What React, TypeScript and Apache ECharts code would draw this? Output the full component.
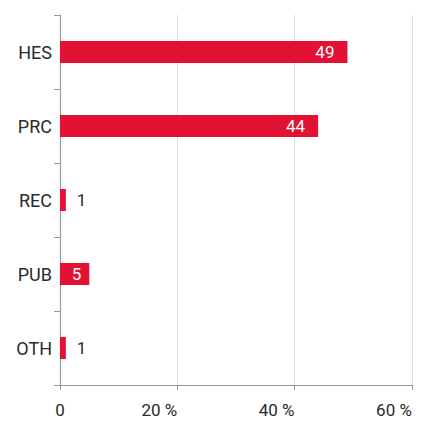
import React, { useEffect, useRef } from "react";
import * as echarts from "echarts";

const categories = ["HES", "PRC", "REC", "PUB", "OTH"];
const values = [49, 44, 1, 5, 1];
const xTicks = [0, 20, 40, 60];

const RED = "#e31134";
const FONT = "Roboto";

export default function App() {
  const ref = useRef<HTMLDivElement>(null);
  useEffect(() => {
    if (!ref.current) return;
    const chart = echarts.init(ref.current, null, { renderer: "svg" });
    const data = values.map((v) => {
      const inside = v >= 5;
      return {
        value: v,
        label: inside
          ? { position: "insideRight", distance: v >= 20 ? 13 : 8, color: "#ffffff" }
          : { position: "right", distance: 11, color: "#2a2a2a" },
      };
    });
    chart.setOption({
      animation: false,
      grid: { left: 60, right: 9, top: 15, bottom: 36, containLabel: false },
      xAxis: {
        type: "value",
        min: xTicks[0],
        max: xTicks[xTicks.length - 1],
        interval: 20,
        axisLine: { show: true, lineStyle: { color: "#9a9a9a", width: 1.2 } },
        axisTick: { show: true, length: 5, lineStyle: { color: "#9a9a9a" } },
        splitLine: { show: true, lineStyle: { color: "#dcdcdc", width: 1 } },
        axisLabel: {
          fontFamily: FONT,
          fontSize: 17,
          color: "#2a2a2a",
          margin: 16,
          align: "center",
          formatter: (v: number) => (v === 0 ? "{z|0}" : `{p|${v} %}`),
          rich: {
            z: { fontFamily: FONT, fontSize: 17, color: "#2a2a2a" },
            p: { fontFamily: FONT, fontSize: 17, color: "#2a2a2a", padding: [0, 36, 0, 0] },
          },
        },
      },
      yAxis: {
        type: "category",
        data: categories,
        inverse: true,
        axisLine: { show: true, lineStyle: { color: "#9a9a9a", width: 1.2 } },
        axisTick: { show: true, length: 6, lineStyle: { color: "#9a9a9a" } },
        axisLabel: { fontFamily: FONT, fontSize: 18, color: "#2a2a2a", margin: 8 },
      },
      series: [
        {
          type: "bar",
          data,
          barWidth: 22,
          itemStyle: { color: RED },
          label: { show: true, fontFamily: FONT, fontSize: 17 },
        },
      ],
    });
    return () => chart.dispose();
  }, []);
  return <div ref={ref} style={{ width: 421, height: 421, position: "absolute", left: 0, top: 0 }} />;
}
